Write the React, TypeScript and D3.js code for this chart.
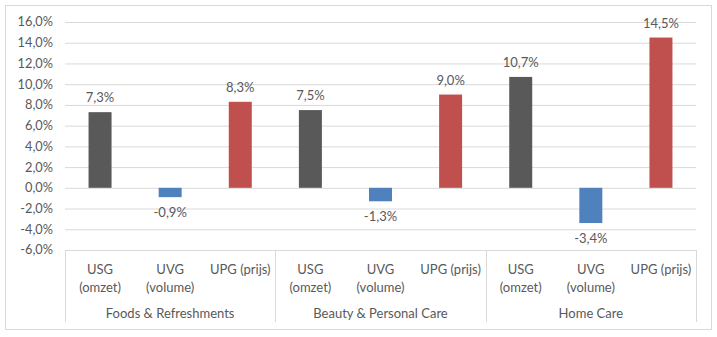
import React from "react";
import * as d3 from "d3";

const groups = ["Foods & Refreshments", "Beauty & Personal Care", "Home Care"];
const metricsTop = ["USG", "UVG", "UPG (prijs)"];
const metricsBottom = ["(omzet)", "(volume)", ""];
const values = [
  [7.3, -0.9, 8.3],
  [7.5, -1.3, 9.0],
  [10.7, -3.4, 14.5],
];
const colors = ["#595959", "#4f81bd", "#c0504d"];
const yTicks = [16, 14, 12, 10, 8, 6, 4, 2, 0, -2, -4, -6];

const W = 717;
const H = 337;
const left = 65;
const right = 696;
const top = 22;
const bottom = 250;
const font = "Lato, 'Open Sans', sans-serif";
const textColor = "#595959";
const gridColor = "#d9d9d9";

const fmt = (v: number) => v.toFixed(1).replace(".", ",") + "%";

export default function App() {
  const y = d3.scaleLinear().domain([-6, 16]).range([bottom, top]);
  const xGroup = d3.scaleBand<string>().domain(groups).range([left, right]);
  const xInner = d3
    .scaleBand<string>()
    .domain(metricsTop)
    .range([0, xGroup.bandwidth()]);
  const barW = 23;

  return (
    <svg
      width={W}
      height={H}
      style={{ position: "absolute", left: 0, top: 0 }}
      fontFamily={font}
    >
      <rect x={0} y={0} width={W} height={H} fill="#fff" />
      <rect x={5.5} y={5.5} width={706} height={324} fill="#fff" stroke={gridColor} />
      {yTicks.map((t) => (
        <g key={t}>
          <line x1={left} x2={right} y1={y(t) + 0.5} y2={y(t) + 0.5} stroke={gridColor} />
          <text
            x={53}
            y={y(t)}
            dy="0.35em"
            textAnchor="end"
            fontSize={12.8}
            fill={textColor}
          >
            {fmt(t)}
          </text>
        </g>
      ))}
      {[0, 1, 2, 3].map((i) => {
        const xx = i < 3 ? xGroup(groups[i])! : right;
        return (
          <line
            key={i}
            x1={Math.round(xx) + 0.5}
            x2={Math.round(xx) + 0.5}
            y1={bottom}
            y2={322}
            stroke={gridColor}
          />
        );
      })}
      {groups.map((g, gi) => {
        const gx = xGroup(g)!;
        return (
          <g key={g}>
            {metricsTop.map((m, mi) => {
              const v = values[gi][mi];
              const cx = gx + xInner(m)! + xInner.bandwidth() / 2;
              const y0 = y(0);
              const y1 = y(v);
              return (
                <g key={m}>
                  <rect
                    x={cx - barW / 2}
                    y={Math.min(y0, y1)}
                    width={barW}
                    height={Math.abs(y1 - y0)}
                    fill={colors[mi]}
                  />
                  <text
                    x={cx}
                    y={v >= 0 ? y1 - 10 : y1 + 20}
                    textAnchor="middle"
                    fontSize={13}
                    fill={textColor}
                  >
                    {fmt(v)}
                  </text>
                  <text x={cx} y={274} textAnchor="middle" fontSize={13} fill={textColor}>
                    {m}
                  </text>
                  {metricsBottom[mi] && (
                    <text x={cx} y={292} textAnchor="middle" fontSize={13} fill={textColor}>
                      {metricsBottom[mi]}
                    </text>
                  )}
                </g>
              );
            })}
            <text
              x={gx + xGroup.bandwidth() / 2}
              y={318}
              textAnchor="middle"
              fontSize={13}
              fill={textColor}
            >
              {g}
            </text>
          </g>
        );
      })}
    </svg>
  );
}
